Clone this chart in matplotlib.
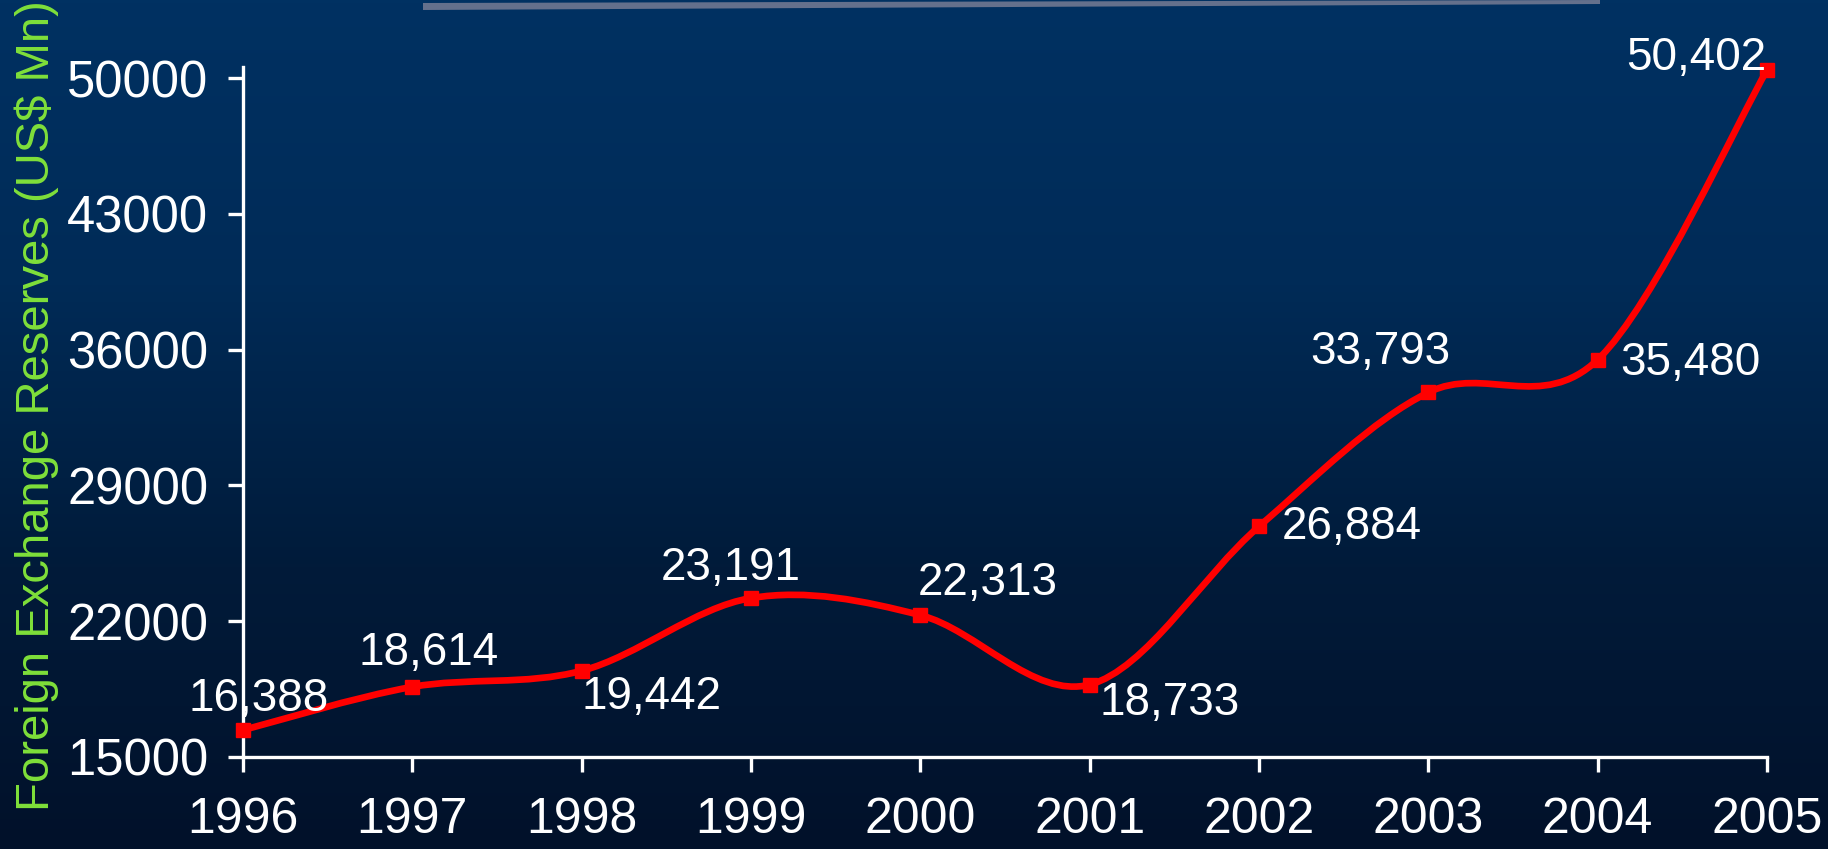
import numpy as np
import matplotlib
matplotlib.use("Agg")
import matplotlib.pyplot as plt
from matplotlib.path import Path
from matplotlib.patches import PathPatch, Polygon
from matplotlib.colors import LinearSegmentedColormap

# ---------------- data ----------------
years = [1996, 1997, 1998, 1999, 2000, 2001, 2002, 2003, 2004, 2005]
reserves = [16388, 18614, 19442, 23191, 22313, 18733, 26884, 33793, 35480, 50402]
value_labels = ["16,388", "18,614", "19,442", "23,191", "22,313",
                "18,733", "26,884", "33,793", "35,480", "50,402"]
yticks = [15000, 22000, 29000, 36000, 43000, 50000]
ylabel = "Foreign Exchange Reserves (US$ Mn)"

# label offsets (points) relative to each marker
label_offsets = [(11.5, 22.3), (11.5, 24.5), (50.4, -18.7), (-14.4, 21.6), (48.2, 23.0),
                 (57.6, -13.0), (67.0, -0.7), (-34.6, 28.8), (67.0, -2.2), (-51.0, 8.6)]

plt.rcParams['font.family'] = ['Liberation Sans', 'DejaVu Sans']

W, H = 1828, 849
fig = plt.figure(figsize=(W / 100, H / 100), dpi=100)

# background gradient
bg = fig.add_axes([0, 0, 1, 1], zorder=-10)
cmap = LinearSegmentedColormap.from_list("bg", ["#003162", "#002b57", "#011b3a", "#01112a"])
grad = np.linspace(0, 1, 256).reshape(-1, 1)
bg.imshow(grad, aspect="auto", cmap=cmap, extent=[0, 1, 0, 1], origin="upper")
bg.set_axis_off()

# top grey bar
bar = Polygon([(423 / W, 1 - 3 / H), (1600 / W, 1 - 0 / H), (1600 / W, 1 - 4 / H), (423 / W, 1 - 10 / H)],
              closed=True, transform=fig.transFigure, facecolor="#64708c", edgecolor="none")
fig.patches.append(bar)

left, right = 243 / W, 1767 / W
bottom, top = (H - 757) / H, (H - 67) / H
ax = fig.add_axes([left, bottom, right - left, top - bottom])
ax.set_facecolor("none")
ax.set_xlim(years[0], years[-1])
ytop = 50000 + 11 / 679 * 35000
ax.set_ylim(15000, ytop)

for s in ["top", "right"]:
    ax.spines[s].set_visible(False)
for s in ["left", "bottom"]:
    ax.spines[s].set_color("white")
    ax.spines[s].set_linewidth(2.4)

ax.set_xticks(years)
ax.set_xticklabels([str(y) for y in years])
ax.set_yticks(yticks)
ax.set_yticklabels([str(v) for v in yticks])
ax.tick_params(axis="both", colors="white", direction="out", length=11, width=2.4)
ax.tick_params(axis="x", pad=18, labelsize=36)
ax.tick_params(axis="y", pad=14, labelsize=36.5)

# smoothed line (Catmull-Rom style Bezier, like spreadsheet smoothing)
xs = np.array(years, dtype=float)
ys = np.array(reserves, dtype=float)
n = len(xs)
verts = [(xs[0], ys[0])]
codes = [Path.MOVETO]
for i in range(n - 1):
    p0 = (xs[max(i - 1, 0)], ys[max(i - 1, 0)])
    p1 = (xs[i], ys[i])
    p2 = (xs[i + 1], ys[i + 1])
    p3 = (xs[min(i + 2, n - 1)], ys[min(i + 2, n - 1)])
    c1 = (p1[0] + (p2[0] - p0[0]) / 6, p1[1] + (p2[1] - p0[1]) / 6)
    c2 = (p2[0] - (p3[0] - p1[0]) / 6, p2[1] - (p3[1] - p1[1]) / 6)
    verts += [c1, c2, p2]
    codes += [Path.CURVE4] * 3
curve = PathPatch(Path(verts, codes), facecolor="none", edgecolor="#ff0000",
                  linewidth=4.8, transform=ax.transData, clip_on=False, zorder=3,
                  capstyle="round", joinstyle="round")
ax.add_patch(curve)
ax.plot(years, reserves, linestyle="none", marker="s", markersize=10.5,
        color="#ff0000", clip_on=False, zorder=4)

for x, y, lab, (dx, dy) in zip(years, reserves, value_labels, label_offsets):
    ax.annotate(lab, (x, y), xytext=(dx, dy), textcoords="offset points",
                ha="center", va="center", color="white", fontsize=33,
                annotation_clip=False, zorder=5)

fig.text(37 / W, 1 - 406 / H, ylabel, rotation=90, ha="center", va="center",
         color="#7fe03a", fontsize=34)

fig.savefig("out.png", dpi=100)
